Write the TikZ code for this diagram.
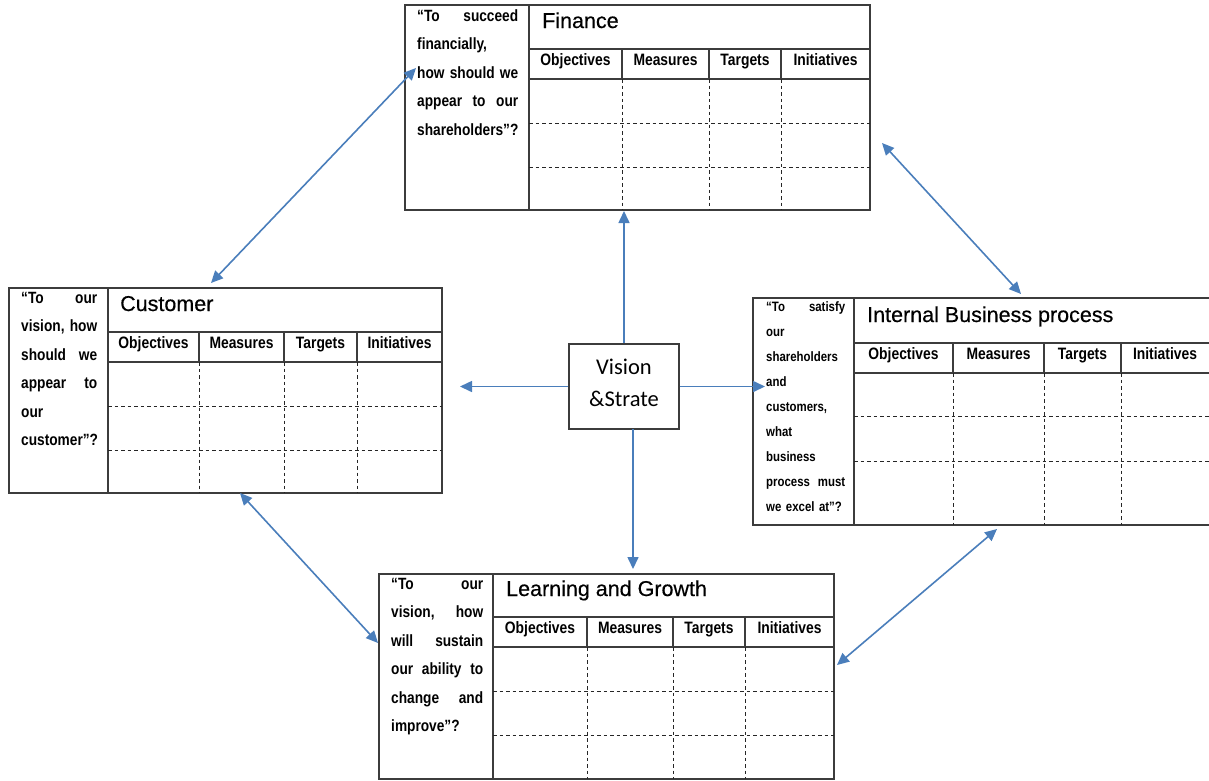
\documentclass[tikz,border=0pt]{standalone}
\usepackage{fontspec}
\setmainfont{Liberation Sans}
\newfontfamily\narrowfont[FakeStretch=0.84]{Liberation Sans}
\newfontfamily\titlefont[FakeBold=0.4]{Liberation Sans}
\newfontfamily\calfont{Carlito}
\usetikzlibrary{arrows.meta}
\definecolor{arrowblue}{HTML}{4A7EBB}
\definecolor{framegray}{HTML}{3C3C3C}
\tikzset{
  frameline/.style={draw=framegray, line width=1.1pt},
  gridline/.style={draw=black!85, line width=0.9pt, dash pattern=on 3.5pt off 3pt},
  boxframe/.style={draw=framegray, line width=1.1pt, anchor=north west, inner sep=0pt, outer sep=0pt},
  hdr/.style={font=\narrowfont\bfseries\fontsize{16.5}{18}\selectfont, anchor=base, inner sep=0pt},
  ttl/.style={font=\titlefont\fontsize{21.5}{24}\selectfont, anchor=base west, inner sep=0pt},
  qtext/.style={font=\narrowfont\bfseries\fontsize{16.3}{28.5}\selectfont, align=left, anchor=base west, inner sep=0pt},
  qsmall/.style={font=\narrowfont\bfseries\fontsize{13.6}{25}\selectfont, align=left, anchor=base west, inner sep=0pt},
  visbox/.style={draw=framegray, line width=1.3pt, minimum width=110pt, minimum height=85pt, inner sep=0pt},
  vistext/.style={align=center, inner sep=0pt, font=\calfont\fontsize{22.5}{32}\selectfont},
  conn/.style={draw=arrowblue, line width=1.6pt, -{Triangle[length=12pt,width=11pt]}},
  dconn/.style={draw=arrowblue, line width=1.6pt, {Triangle[length=12pt,width=11pt]}-{Triangle[length=12pt,width=11pt]}}
}
% #1 divider x, #2-#4 column lines, #5 right x, #6 header top, #7 #8 row lines, #9 bottom
\newcommand\bsctable[9]{%
  \draw[frameline] (#1,#6) -- (#5,#6) (#1,{#6+30}) -- (#5,{#6+30})
     (#2,#6) -- (#2,{#6+30}) (#3,#6) -- (#3,{#6+30}) (#4,#6) -- (#4,{#6+30});
  \draw[gridline] (#2,{#6+30}) -- (#2,#9) (#3,{#6+30}) -- (#3,#9) (#4,{#6+30}) -- (#4,#9)
     (#1,#7) -- (#5,#7) (#1,#8) -- (#5,#8);
  \node[hdr] (\tabpfx-h1) at ({(#1+#2)/2},{#6+16}) {Objectives};
  \node[hdr] (\tabpfx-h2) at ({(#2+#3)/2},{#6+16}) {Measures};
  \node[hdr] (\tabpfx-h3) at ({(#3+#4)/2},{#6+16}) {Targets};
  \node[hdr] (\tabpfx-h4) at ({(#4+#5)/2},{#6+16}) {Initiatives};
}
\begin{document}
\begin{tikzpicture}[x=1pt,y=-1pt]
\useasboundingbox (0,0) rectangle (1209,780);

% ---------- Finance ----------
\node[boxframe, minimum width=465pt, minimum height=205pt] (fin) at (405,5) {};
\draw[frameline] (529,5) -- (529,210);
\def\tabpfx{fin}
\bsctable{529}{622}{709}{781}{870}{49}{123}{167}{210}
\node[ttl] (fin-t) at (542,28) {Finance};
\node[qtext, text width=101pt] (fin-q) at (417,21)
  {“To\hfill succeed\\financially,\\how\hfill should\hfill we\\appear\hfill to\hfill our\\shareholders”?};

% ---------- Customer ----------
\node[boxframe, minimum width=433pt, minimum height=205pt] (cus) at (9,288) {};
\draw[frameline] (108,288) -- (108,493);
\def\tabpfx{cus}
\bsctable{108}{199}{284}{357}{442}{332}{406}{450}{493}
\node[ttl] (cus-t) at (120,311) {Customer};
\node[qtext, text width=76pt] (cus-q) at (21,303)
  {“To\hfill our\\vision,\hfill how\\should\hfill we\\appear\hfill to\\our\\customer”?};

% ---------- Internal Business process ----------
\node[boxframe, minimum width=462pt, minimum height=227pt] (ibp) at (753,298) {};
\draw[frameline] (854,298) -- (854,525);
\def\tabpfx{ibp}
\bsctable{854}{953}{1044}{1121}{1209}{343}{416}{461}{525}
\node[ttl] (ibp-t) at (867,322) {Internal Business process};
\node[qsmall, text width=79pt] (ibp-q) at (766,311)
  {“To\hfill satisfy\\our\\shareholders\\and\\customers,\\what\\business\\process\hfill must\\we excel at”?};

% ---------- Learning and Growth ----------
\node[boxframe, minimum width=455pt, minimum height=205pt] (lag) at (379,574) {};
\draw[frameline] (493,574) -- (493,779);
\def\tabpfx{lag}
\bsctable{493}{587}{673}{745}{834}{617}{691}{735}{779}
\node[ttl] (lag-t) at (506,596) {Learning and Growth};
\node[qtext, text width=92pt] (lag-q) at (391,589)
  {“To\hfill our\\vision,\hfill how\\will\hfill sustain\\our\hfill ability\hfill to\\change\hfill and\\improve”?};

% ---------- Vision & Strategy ----------
\node[visbox] (vis) at (624,386.5) {};
\node[vistext] (vis-t) at (624,383) {Vision\\\&Strate};

% ---------- connector end points ----------
\coordinate (up-end) at (624,211);
\coordinate (left-end) at (460,386.5);
\coordinate (right-end) at (765,386.5);
\coordinate (down-start) at (633,429);
\coordinate (down-end) at (633,569);
\coordinate (fc-a) at (416,68);
\coordinate (fc-b) at (211,283);
\coordinate (fi-a) at (882,143);
\coordinate (fi-b) at (1021,294);
\coordinate (cl-a) at (240,493);
\coordinate (cl-b) at (378,643);
\coordinate (il-a) at (997,529);
\coordinate (il-b) at (837,665);

% ---------- connectors ----------
\draw[conn] (vis.north) -- (up-end);
\draw[conn] (vis.west) -- (left-end);
\draw[conn] (vis.east) -- (right-end);
\draw[conn] (down-start) -- (down-end);
\draw[dconn] (fc-a) -- (fc-b);
\draw[dconn] (fi-a) -- (fi-b);
\draw[dconn] (cl-a) -- (cl-b);
\draw[dconn] (il-a) -- (il-b);
\end{tikzpicture}
\end{document}
